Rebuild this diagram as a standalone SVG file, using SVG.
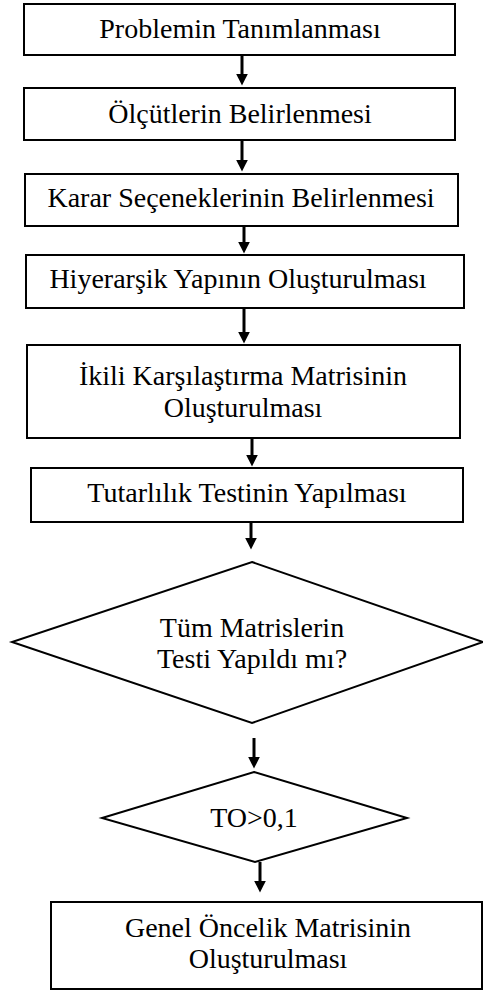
<svg xmlns="http://www.w3.org/2000/svg" width="483" height="991" viewBox="0 0 483 991">
<style>
.box{fill:#fff;stroke:#000;stroke-width:2}
.t{font-family:"Liberation Serif","Times New Roman",serif;font-size:28px;fill:#000;text-anchor:middle}
.c{stroke:#000;stroke-width:3;fill:none}
</style>
<defs>
<marker id="ah" viewBox="0 0 10 10" refX="2" refY="5" markerWidth="12" markerHeight="12" markerUnits="userSpaceOnUse" orient="auto">
<path d="M0,0 L10,5 L0,10 z" fill="#000"/>
</marker>
</defs>
<rect width="483" height="991" fill="#fff"/>
<g id="connectors">
<line class="c" x1="242" y1="55" x2="242" y2="76" marker-end="url(#ah)"/>
<line class="c" x1="242" y1="140" x2="242" y2="162" marker-end="url(#ah)"/>
<line class="c" x1="244" y1="226" x2="244" y2="244" marker-end="url(#ah)"/>
<line class="c" x1="244" y1="308" x2="244" y2="334" marker-end="url(#ah)"/>
<line class="c" x1="252" y1="438" x2="252" y2="457" marker-end="url(#ah)"/>
<line class="c" x1="251" y1="522" x2="251" y2="540" marker-end="url(#ah)"/>
<line class="c" x1="254" y1="738" x2="254" y2="759" marker-end="url(#ah)"/>
<line class="c" x1="260" y1="862" x2="260" y2="883" marker-end="url(#ah)"/>
</g>
<g id="n1"><rect class="box" x="24" y="4" width="431" height="51"/><text class="t" x="240" y="38">Problemin Tanımlanması</text></g>
<g id="n2"><rect class="box" x="24" y="88" width="431" height="52"/><text class="t" x="240" y="123">Ölçütlerin Belirlenmesi</text></g>
<g id="n3"><rect class="box" x="25" y="174" width="433" height="52"/><text class="t" x="241" y="207">Karar Seçeneklerinin Belirlenmesi</text></g>
<g id="n4"><rect class="box" x="26" y="255" width="438" height="53"/><text class="t" x="238" y="288">Hiyerarşik Yapının Oluşturulması</text></g>
<g id="n5"><rect class="box" x="27" y="345" width="433" height="93"/><text class="t" x="243" y="385">İkili Karşılaştırma Matrisinin</text><text class="t" x="243" y="417">Oluşturulması</text></g>
<g id="n6"><rect class="box" x="31" y="468" width="432" height="54"/><text class="t" x="247" y="502">Tutarlılık Testinin Yapılması</text></g>
<g id="n7"><polygon class="box" points="252,562 483,642 252,723 12,642"/><text class="t" x="252" y="637">Tüm Matrislerin</text><text class="t" x="252" y="668">Testi Yapıldı mı?</text></g>
<g id="n8"><polygon class="box" points="254,772 407,818 255,862 102,818"/><text class="t" x="254" y="827">TO&gt;0,1</text></g>
<g id="n9"><rect class="box" x="51" y="902" width="431" height="87"/><text class="t" x="268" y="937">Genel Öncelik Matrisinin</text><text class="t" x="268" y="968">Oluşturulması</text></g>
</svg>
